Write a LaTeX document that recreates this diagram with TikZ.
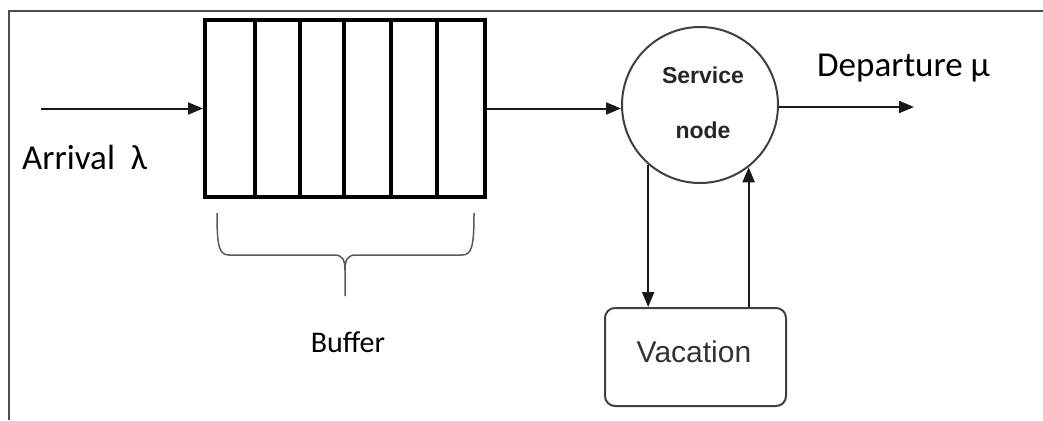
\documentclass[tikz,border=0pt]{standalone}
\usepackage{fontspec}
\setmainfont{Carlito}
\newfontfamily\arialfont{Liberation Sans}
\usetikzlibrary{arrows.meta}
\tikzset{
  arr/.style={line width=2pt, draw=black!90, -{Triangle[length=15pt,width=12pt]}},
  frameline/.style={line width=2.2pt, draw=black!70},
  bracestyle/.style={line width=1.5pt, draw=black!65},
  celldiv/.style={line width=4pt, draw=black}
}
\begin{document}
\begin{tikzpicture}[x=1pt,y=-1pt]
  \useasboundingbox (0,0) rectangle (1043,420);
  % open frame: left and top edges
  \draw[frameline] (9,420) -- (9,11) -- (1043,11);

  % buffer with six cells
  \node[draw=black, line width=4pt, minimum width=280pt, minimum height=177pt,
        inner sep=0pt] (buf) at (345,108.5) {};
  \foreach \x in {255,300,344,391,437}
    \draw[celldiv] (\x,20) -- (\x,197);

  % arrival
  \coordinate (arrin) at (41,108.5);
  \draw[arr] (arrin) -- (buf.west);
  \node[anchor=base west, inner sep=0pt, font=\fontsize{35}{42}\selectfont] (arrtxt)
    at (22,169) {Arrival\ \ λ};

  % brace under the buffer
  \draw[bracestyle] (217,213) .. controls (217,246) and (219,255) .. (229,255)
    -- (334,255) .. controls (342,255) and (345,259) .. (345,270) -- (345,296);
  \draw[bracestyle] (474,213) .. controls (474,246) and (472,255) .. (462,255)
    -- (356,255) .. controls (348,255) and (345,259) .. (345,270);
  \node[anchor=base, inner sep=0pt, font=\fontsize{30}{36}\selectfont] (buftxt)
    at (348,352) {Buffer};

  % service node
  \node[circle, draw=black!75, line width=2pt, minimum size=156pt, inner sep=0pt]
    (svc) at (700,105) {};
  \node[anchor=base, inner sep=0pt, font=\arialfont\bfseries\fontsize{23}{28}\selectfont,
        text=black!85] (svct1) at (703,83) {Service};
  \node[anchor=base, inner sep=0pt, font=\arialfont\bfseries\fontsize{23}{28}\selectfont,
        text=black!85] (svct2) at (703,138) {node};

  \draw[arr] (buf.east) -- (buf.east -| svc.west);

  % departure
  \coordinate (depout) at (914,107);
  \draw[arr] (svc.east |- depout) -- (depout);
  \node[anchor=base west, inner sep=0pt, font=\fontsize{35}{42}\selectfont] (deptxt)
    at (817,77) {Departure μ};

  % vacation
  \node[draw=black!75, line width=2pt, rounded corners=10pt, minimum width=181pt,
        minimum height=98pt, inner sep=0pt] (vac) at (695.5,357) {};
  \node[anchor=base, inner sep=0pt, font=\arialfont\fontsize{30}{36}\selectfont,
        text=black!80] (vactxt) at (694,362) {Vacation};

  \draw[arr] (svc.229) -- (svc.229 |- vac.north);
  \draw[arr] (svc.308 |- vac.north) -- (svc.308);
\end{tikzpicture}
\end{document}
